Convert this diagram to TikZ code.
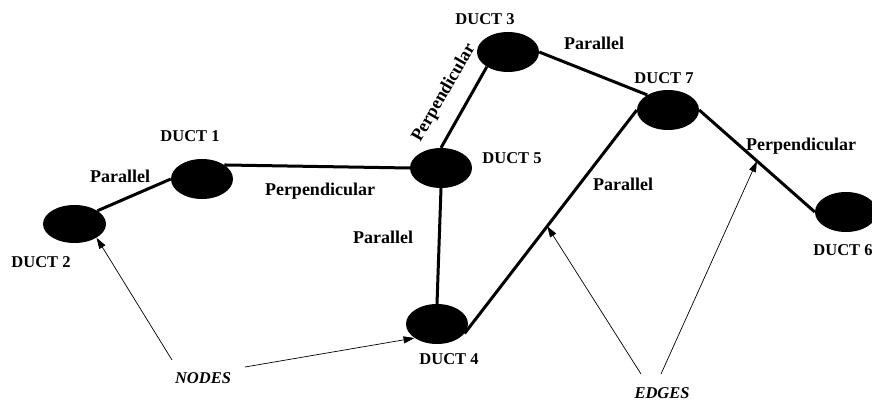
\documentclass[tikz,border=0pt]{standalone}
\usepackage{fontspec}
\setmainfont{Liberation Serif}
\usetikzlibrary{shapes.geometric,arrows.meta}

\begin{document}
\begin{tikzpicture}[x=1pt,y=-1pt,
  duct/.style={ellipse,fill=black,draw=none,minimum width=62pt,minimum height=40pt,inner sep=0pt},
  ductlabel/.style={anchor=base,inner sep=0pt,font=\fontsize{16.5}{18}\selectfont\bfseries},
  edgelabel/.style={anchor=base,inner sep=0pt,font=\fontsize{18}{20}\selectfont\bfseries},
  legend/.style={anchor=base,inner sep=0pt,font=\fontsize{16.5}{18}\selectfont\bfseries\itshape},
  link/.style={line width=3pt},
  pointer/.style={line width=0.7pt,-{Triangle[length=11pt,width=7pt]}}]
\useasboundingbox (0,0) rectangle (872,401);

% ducts
\node[duct,minimum width=63pt,minimum height=38pt] (d2) at (74.5,224) {};
\node[duct] (d1) at (202,179) {};
\node[duct] (d5) at (441,168) {};
\node[duct] (d3) at (508,52) {};
\node[duct] (d7) at (668,110) {};
\node[duct] (d6) at (846,212) {};
\node[duct] (d4) at (437,324) {};

% connections between ducts
\draw[link] (d2.30) -- (d1.west);
\draw[link] (d1.32) -- (d5.west);
\draw[link] (d5.north) -- (d3.215);
\draw[link] (d3.east) -- (d7.144);
\draw[link] (d5.south) -- (d4.north);
\draw[link] (d4.-19) -- (d7.west);
\draw[link] (d7.east) -- (d6.west);

% points on edges that the legend arrows point at
\path (d4.-19) -- (d7.west) coordinate[pos=0.48] (e47);
\path (d7.east) -- (d6.west) coordinate[pos=0.50] (e76);

% duct names
\node[ductlabel] (t1) at (190,142) {DUCT 1};
\node[ductlabel] (t2) at (41,267) {DUCT 2};
\node[ductlabel] (t3) at (485,25) {DUCT 3};
\node[ductlabel] (t4) at (449,364) {DUCT 4};
\node[ductlabel] (t5) at (512,163) {DUCT 5};
\node[ductlabel] (t6) at (843,255) {DUCT 6};
\node[ductlabel] (t7) at (664,84) {DUCT 7};

% edge types
\node[edgelabel] (p21) at (120,182) {Parallel};
\node[edgelabel] (p15) at (320,195) {Perpendicular};
\node[edgelabel,anchor=center,rotate=60] (p53) at (444,93) {Perpendicular};
\node[edgelabel] (p37) at (594,50) {Parallel};
\node[edgelabel] (p54) at (383,243) {Parallel};
\node[edgelabel] (p47) at (623,190) {Parallel};
\node[edgelabel] (p76) at (801,150) {Perpendicular};

% legend
\node[legend] (nodes) at (203,383) {NODES};
\node[legend] (edges) at (662,398) {EDGES};
\coordinate (na) at (172,360);
\coordinate (nb) at (245,367);
\coordinate (ea) at (641,374);
\coordinate (eb) at (661,374);
\draw[pointer] (na) -- (d2.-32);
\draw[pointer] (nb) -- (d4.212);
\draw[pointer] (ea) -- (e47);
\draw[pointer] (eb) -- (e76);
\end{tikzpicture}
\end{document}
